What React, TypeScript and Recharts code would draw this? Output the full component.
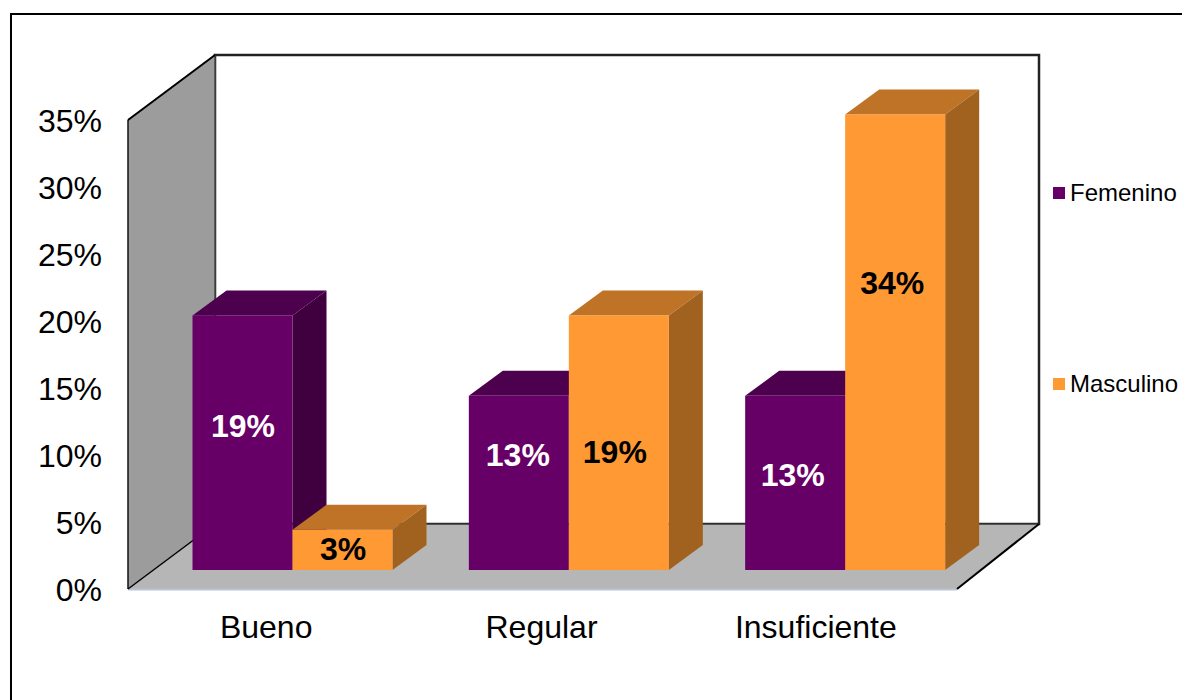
import React from "react";
import { BarChart, Bar, XAxis, YAxis, Legend, LabelList, usePlotArea } from "recharts";

const categories = ["Bueno", "Regular", "Insuficiente"];
const femenino = [19, 13, 13];
const masculino = [3, 19, 34];
const yTicks = [0, 5, 10, 15, 20, 25, 30, 35];

const data = categories.map((name, i) => ({ name, femenino: femenino[i], masculino: masculino[i] }));

const FONT = "'Liberation Sans', Arial, sans-serif";

// the bars stand a bit behind the front edge of the floor
const BAR_SHIFT_X = 26.5;
const BAR_SHIFT_Y = 19;
const BAR_DEPTH_X = 34;
const BAR_DEPTH_Y = 25;

const shades: Record<string, { top: string; side: string }> = {
  "#660066": { top: "#4d004d", side: "#400040" },
  "#ff9933": { top: "#bf7326", side: "#a16220" },
};

// hand placed data labels, relative to the middle of each bar
const femLabelDx = [0.5, -1, -2.5];
const femLabelDy = [-17, -28, -8];
const mascLabelDx = [0.5, -4, -3];
const mascLabelDy = [-1, 9, -59];

// category labels are not quite centred under their groups
const categoryDx = [0, -1, -3];

function Bar3D({ x, y, width, height, fill }: any) {
  const left = x + BAR_SHIFT_X;
  const right = left + width;
  const top = y - BAR_SHIFT_Y;
  const bottom = top + height;
  const dx = BAR_DEPTH_X;
  const dy = BAR_DEPTH_Y;
  return (
    <g>
      <polygon points={`${left},${top} ${left + dx},${top - dy} ${right + dx},${top - dy} ${right},${top}`} fill={shades[fill].top} />
      <polygon points={`${right},${top} ${right + dx},${top - dy} ${right + dx},${bottom - dy} ${right},${bottom}`} fill={shades[fill].side} />
      <rect x={left} y={top} width={width} height={height} fill={fill} />
    </g>
  );
}

// side wall, back wall and floor of the 3d box
function Walls() {
  const plot = usePlotArea();
  if (!plot) return null;
  const l = plot.x;
  const r = plot.x + plot.width;
  const t = plot.y;
  const b = plot.y + plot.height;
  const backL = l + 87;
  const backR = r + 82;
  const dy = 65;
  return (
    <g>
      <rect x={backL} y={t - dy} width={backR - backL} height={b - t} fill="#ffffff" stroke="#222222" strokeWidth={2.5} />
      <polygon points={`${l},${t} ${backL},${t - dy} ${backL},${b - dy} ${l},${b}`} fill="#9c9c9c" />
      <polygon points={`${l},${b} ${backL},${b - dy} ${backR},${b - dy} ${r},${b}`} fill="#b6b6b6" />
      <line x1={l} y1={b + 0.5} x2={r} y2={b + 0.5} stroke="#b9c3d6" strokeWidth={2} />
      <line x1={backL} y1={t - dy} x2={backL} y2={b - dy} stroke="#444444" strokeWidth={1.5} />
      <line x1={backL} y1={b - dy} x2={backR} y2={b - dy} stroke="#333333" strokeWidth={1.5} />
      <line x1={l} y1={t} x2={l} y2={b} stroke="#111111" strokeWidth={1.5} />
      <line x1={l} y1={t} x2={backL} y2={t - dy} stroke="#000000" strokeWidth={2} />
      <line x1={l} y1={b} x2={backL} y2={b - dy} stroke="#000000" strokeWidth={1.5} />
      <line x1={r} y1={b} x2={backR} y2={b - dy} stroke="#000000" strokeWidth={2} />
    </g>
  );
}

function CategoryTick({ x, y, payload, index }: any) {
  return (
    <text x={x + categoryDx[index]} y={y} dy="0.71em" fill="#000" fontSize={32} fontFamily={FONT} textAnchor="middle">
      {payload.value}
    </text>
  );
}

function barLabel(color: string, dxs: number[], dys: number[]) {
  return ({ x, y, width, height, value, index }: any) => (
    <text
      x={x + BAR_SHIFT_X + width / 2 + dxs[index]}
      y={y - BAR_SHIFT_Y + height / 2 + dys[index]}
      fill={color}
      fontFamily={FONT}
      fontSize={32}
      fontWeight="bold"
      textAnchor="middle"
      dominantBaseline="central"
    >
      {value}%
    </text>
  );
}

function LegendBlock({ payload }: any) {
  return (
    <div style={{ position: "relative", fontFamily: FONT, fontSize: 24, color: "#000" }}>
      {(payload || []).map((item: any, i: number) => (
        <div
          key={item.value}
          style={{ position: "absolute", left: 0, top: i * 191, whiteSpace: "nowrap", lineHeight: "24px", display: "flex", alignItems: "center" }}
        >
          <span style={{ width: 12, height: 12, background: item.color, marginRight: 5 }} />
          {item.value}
        </div>
      ))}
    </div>
  );
}

export default function App() {
  return (
    <div style={{ position: "absolute", left: 0, top: 0, width: 1182, height: 700, overflow: "hidden", background: "#fff" }}>
      <div style={{ position: "absolute", left: 10, top: 13, width: 1200, height: 720, borderLeft: "2px solid #000", borderTop: "2px solid #000" }} />
      <BarChart
        width={1182}
        height={700}
        data={data}
        barGap={0}
        barSize={100}
        margin={{ top: 120, right: 225, bottom: 0, left: 0 }}
      >
        <Walls />
        <XAxis
          dataKey="name"
          axisLine={false}
          tickLine={false}
          height={111}
          tickMargin={20}
          interval={0}
          tick={<CategoryTick />}
        />
        <YAxis
          domain={[0, 35]}
          ticks={yTicks}
          width={128}
          axisLine={false}
          tickLine={false}
          tickSize={0}
          tickMargin={26}
          tickFormatter={(v: number) => `${v}%`}
          tick={{ fill: "#000", fontSize: 32, fontFamily: FONT, dy: 0.5 }}
        />
        <Legend
          layout="vertical"
          align="center"
          verticalAlign="middle"
          content={<LegendBlock />}
          wrapperStyle={{ left: 1053, top: 181, width: 130 }}
        />
        <Bar dataKey="femenino" name="Femenino" fill="#660066" shape={<Bar3D />} isAnimationActive={false}>
          <LabelList dataKey="femenino" content={barLabel("#ffffff", femLabelDx, femLabelDy)} />
        </Bar>
        <Bar dataKey="masculino" name="Masculino" fill="#ff9933" shape={<Bar3D />} isAnimationActive={false}>
          <LabelList dataKey="masculino" content={barLabel("#000000", mascLabelDx, mascLabelDy)} />
        </Bar>
      </BarChart>
    </div>
  );
}
